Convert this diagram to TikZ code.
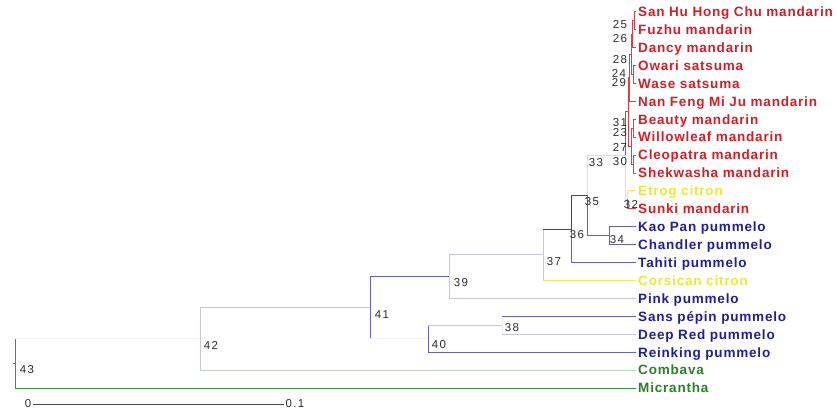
\documentclass[tikz,border=0pt]{standalone}
\usepackage{fontspec}
\setmainfont{Liberation Sans}
\newfontfamily\leaffont[LetterSpace=6]{Liberation Sans}
\newfontfamily\numfont[LetterSpace=12]{Liberation Sans}
\definecolor{mandred}{RGB}{220,26,36}
\definecolor{citryel}{RGB}{232,232,60}
\definecolor{pummblue}{RGB}{30,30,165}
\definecolor{limegrn}{RGB}{40,130,40}
\definecolor{numgray}{RGB}{45,45,45}
\definecolor{redline}{RGB}{226,60,70}
\definecolor{yelline}{RGB}{238,238,90}
\definecolor{blueline}{RGB}{95,95,205}
\definecolor{darkline}{RGB}{75,75,75}
\definecolor{paleline}{RGB}{200,200,212}
\definecolor{palegrn}{RGB}{190,212,190}
\definecolor{ghostline}{RGB}{242,242,242}
\definecolor{grnline}{RGB}{60,150,60}
\tikzset{
  leaf/.style={anchor=west, inner xsep=2pt, inner ysep=0pt, text height=9.7pt, text depth=0pt,
    font=\leaffont\bfseries\fontsize{13.5}{14}\selectfont},
  num/.style={inner sep=0pt, text=numgray, font=\numfont\fontsize{11.5}{12}\selectfont},
  br/.style={line width=0.9pt, line cap=rect},
  redl/.style={br, draw=redline},
  yell/.style={br, draw=yelline},
  bluel/.style={br, draw=blueline},
  darkl/.style={br, draw=darkline},
  palel/.style={br, draw=paleline},
  paleg/.style={br, draw=palegrn},
  ghost/.style={br, draw=ghostline},
  grnl/.style={br, draw=grnline},
  scalebar/.style={line width=0.8pt, draw=darkline}
}
\begin{document}
\begin{tikzpicture}[x=1pt,y=-1pt]
  \useasboundingbox (0,0) rectangle (837,414);

  % leaves
  \foreach \c/\t [count=\i] in {
      mandred/San Hu Hong Chu mandarin,
      mandred/Fuzhu mandarin,
      mandred/Dancy mandarin,
      mandred/Owari satsuma,
      mandred/Wase satsuma,
      mandred/Nan Feng Mi Ju mandarin,
      mandred/Beauty mandarin,
      mandred/Willowleaf mandarin,
      mandred/Cleopatra mandarin,
      mandred/Shekwasha mandarin,
      citryel/Etrog citron,
      mandred/Sunki mandarin,
      pummblue/Kao Pan pummelo,
      pummblue/Chandler pummelo,
      pummblue/Tahiti pummelo,
      citryel/Corsican citron,
      pummblue/Pink pummelo,
      pummblue/Sans pépin pummelo,
      pummblue/Deep Red pummelo,
      pummblue/Reinking pummelo,
      limegrn/Combava,
      limegrn/Micrantha}{
    \node[leaf,text=\c] (l\i) at (636,{11.7+(\i-1)*17.92}) {\t};
  }

  % inner nodes
  \foreach \n/\x/\y in {
      25/634/20.65, 26/632/34.1, 29/633/74.45, 28/631/54.3, 24/629/77.8,
      31/633/128.15, 27/633/164.05, 23/631/146.1, 30/628/111.95,
      32/627/199.85, 33/625/155.9, 34/609/235.7, 35/587/195.8,
      36/571/229.2, 37/543/254.85, 39/449/276.6, 38/502/325.3,
      40/428/338.75, 41/370/307.7, 42/200/338.9, 43/15/363.45}{
    \coordinate (n\n) at (\x,\y);
  }

  % branches: parent/child/bar style/edge style
  \foreach \p/\c/\v/\e in {
      n43/n42/grnl/ghost, n41/n40/bluel/ghost,
      n25/l1/redl/redl, n25/l2/redl/redl,
      n26/n25/redl/redl, n26/l3/redl/redl,
      n29/l4/redl/redl, n29/l5/redl/redl,
      n28/n26/redl/redl, n28/n29/redl/redl,
      n24/n28/redl/redl, n24/l6/redl/redl,
      n31/l7/redl/redl, n31/l8/redl/redl,
      n27/l9/redl/redl, n27/l10/redl/redl,
      n23/n31/redl/redl, n23/n27/redl/redl,
      n30/n24/redl/redl, n30/n23/redl/redl,
      n32/l11/yell/yell, n32/l12/redl/redl,
      n33/n30/redl/redl, n33/n32/yell/yell,
      n34/l13/bluel/bluel, n34/l14/bluel/bluel,
      n35/n33/yell/yell, n35/n34/bluel/bluel,
      n36/n35/darkl/darkl, n36/l15/bluel/bluel,
      n37/n36/palel/darkl, n37/l16/palel/yell,
      n39/n37/palel/palel, n39/l17/palel/palel,
      n38/l18/ghost/bluel, n38/l19/ghost/palel,
      n40/n38/bluel/palel, n40/l20/bluel/bluel,
      n41/n39/bluel/bluel,
      n42/n41/palel/palel, n42/l21/palel/paleg,
      n43/l22/grnl/grnl}{
    \draw[\v] (\p) -- (\p |- \c);
    \draw[\e] (\p |- \c) -- (\c);
  }
  \draw[redl] (n43) -- ++(-2,0);

  % node numbers
  \foreach \n/\x/\y in {
      43/27/370, 42/211/345, 41/382/315, 40/439/345, 39/461/283,
      38/512/328, 37/554/262, 36/577/235, 35/592/202, 34/617/240,
      33/596/163, 32/631/205, 30/620/162, 27/620/147, 23/620/133,
      31/620/123, 29/619/83, 24/619/73, 28/620/60, 26/620/39, 25/620/25}{
    \node[num] (t\n) at (\x,\y) {\n};
  }

  % scale
  \node[num,inner sep=1.5pt] (s0) at (28,404) {0};
  \node[num,inner sep=1.5pt] (s1) at (295,404) {0.1};
  \draw[scalebar] (s0) -- (s1);
\end{tikzpicture}
\end{document}
